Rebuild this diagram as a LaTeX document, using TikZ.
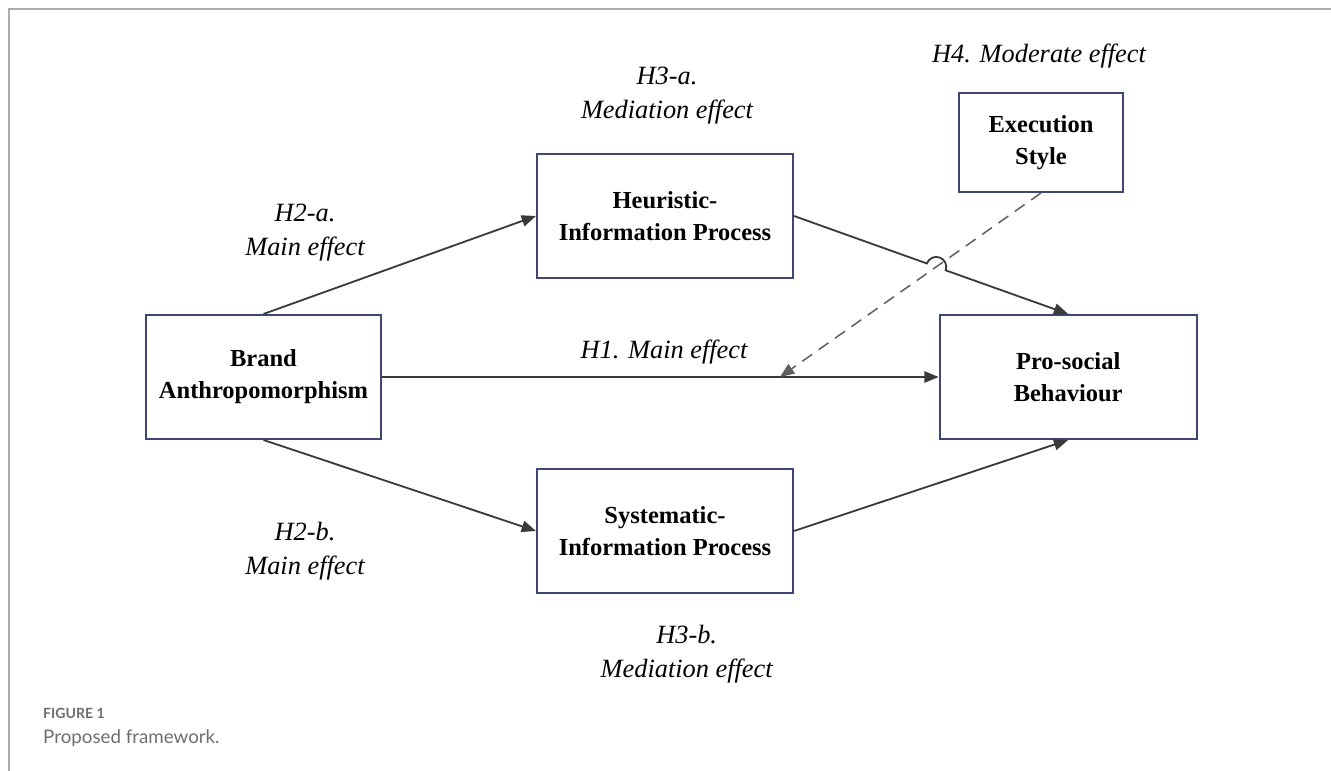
\documentclass[tikz,border=0pt]{standalone}
\usepackage{fontspec}
\setmainfont{Liberation Serif}
\newfontfamily\capfont{Lato}
\usetikzlibrary{arrows.meta, positioning, calc, intersections}

\definecolor{boxline}{HTML}{3F4577}
\definecolor{arrowline}{HTML}{3A3A3A}
\definecolor{dashline}{HTML}{5E5E5E}
\definecolor{framegray}{HTML}{ABABAB}
\definecolor{capgray}{HTML}{6D6E71}

\begin{document}
\begin{tikzpicture}[>={Triangle[length=0.43cm,width=0.34cm]},
  construct/.style={draw=boxline, line width=0.06cm, minimum height=3.72cm, align=center,
    font=\fontsize{20.9}{27.3}\selectfont\bfseries},
  hypo/.style={align=center, font=\fontsize{22.5}{29}\selectfont\itshape},
  link/.style={draw=arrowline, line width=0.055cm, ->}]
\useasboundingbox (0,0) rectangle (39.93,23.13);
% panel frame
\draw[framegray, line width=0.06cm] (0.27,0) -- (0.27,22.86) -- (39.93,22.86);

% constructs
\node[construct, minimum width=7.05cm] (brand) at (7.905,11.82) {Brand\\Anthropomorphism};
\node[construct, minimum width=7.71cm, right=16.7cm of brand] (pro) {Pro-social\\Behaviour};
\node[construct, minimum width=7.68cm] (heur) at (19.95,16.65) {Heuristic-\\Information Process};
\node[construct, minimum width=7.68cm, below=5.67cm of heur] (syst) {Systematic-\\Information Process};
\node[construct, minimum width=4.92cm, minimum height=2.97cm] (exec) at (31.23,18.855) {Execution\\Style};

% hypotheses
\node[hypo] (h4) at (31.17,21.45) {H4. Moderate effect};
\node[hypo] (h3a) at (20.01,20.25) {H3-a.\\Mediation effect};
\node[hypo] (h2a) at (9.15,16.14) {H2-a.\\Main effect};
\node[hypo] (h1) at (19.92,12.57) {H1. Main effect};
\node[hypo] (h2b) at (9.15,6.6) {H2-b.\\Main effect};
\node[hypo] (h3b) at (20.6,3.5) {H3-b.\\Mediation effect};

% paths
\draw[link] (brand.north) -- (heur.west);
\draw[link] (brand) -- (pro);
\draw[link] (brand.south) -- (syst.west);
\draw[link] (syst.east) -- (pro.south);
\coordinate (modin) at ($(brand.east)!0.715!(pro.west)$);
\path[name path=heurpath] (heur.east) -- (pro.north);
\path[name path=modpath] (exec.south) -- (modin);
\path[name intersections={of=heurpath and modpath, by=cross}];
\draw[link] (heur.east) -- ($(cross)!0.3cm!(heur.east)$)
  arc[start angle=160, end angle=-20, radius=0.3cm] -- (pro.north);
\draw[link, draw=dashline, line width=0.045cm, dash pattern=on 0.36cm off 0.24cm] (exec.south) -- (modin);

% caption
\node[anchor=west, inner sep=0, text=capgray, font=\capfont\bfseries\fontsize{12}{14}\selectfont] (figno) at (1.29,1.74) {FIGURE 1};
\node[anchor=west, inner sep=0, text=capgray, font=\capfont\fontsize{16}{19}\selectfont] (figcap) at (1.29,0.99) {Proposed framework.};
\end{tikzpicture}
\end{document}
